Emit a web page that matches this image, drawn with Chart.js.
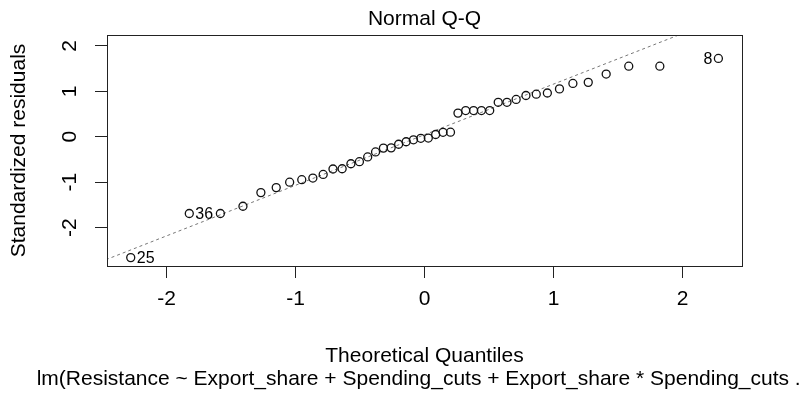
<!DOCTYPE html>
<html lang="en">
<head>
  <meta charset="UTF-8" />
  <title>Normal Q-Q</title>
  <script src="https://cdn.jsdelivr.net/npm/chart.js"></script>
  <style>
    body {
      margin: 0;
      background: #fff;
    }
    #wrap {
      width: 799px;
      height: 396px;
      position: relative;
    }
  </style>
</head>
<body>
  <div id="wrap"><canvas id="qq"></canvas></div>

  <script>
    // theoretical quantiles (x) and standardized residuals (y)
    const theoQ = [-2.278, -1.824, -1.583, -1.408, -1.269, -1.150, -1.046, -0.952, -0.866, -0.786,
      -0.710, -0.639, -0.571, -0.505, -0.441, -0.380, -0.319, -0.259, -0.201, -0.143, -0.086, -0.029,
      0.029, 0.086, 0.143, 0.201, 0.259, 0.319, 0.380, 0.441, 0.505, 0.571, 0.639, 0.710, 0.786,
      0.866, 0.952, 1.046, 1.150, 1.269, 1.408, 1.583, 1.824, 2.278];
    const stdResid = [-2.66, -1.69, -1.69, -1.53, -1.23, -1.12, -1.00, -0.945, -0.91, -0.83,
      -0.71, -0.705, -0.595, -0.55, -0.445, -0.335, -0.25, -0.245, -0.165, -0.11, -0.067, -0.035,
      -0.029, 0.049, 0.098, 0.10, 0.52, 0.576, 0.576, 0.576, 0.576, 0.758, 0.758, 0.82, 0.907,
      0.936, 0.962, 1.053, 1.173, 1.197, 1.379, 1.552, 1.552, 1.723];

    // reference line end points
    const qqLineX = [-2.6, 2.6];
    const qqLineY = [-2.85, 2.94];

    // labelled observations: index into the arrays above, and the id shown
    const idIndex = [0, 1, 43];
    const idText = ['25', '36', '8'];

    const xTickVals = [-2, -1, 0, 1, 2];
    const yTickVals = [-2, -1, 0, 1, 2];

    const titleText = 'Normal Q-Q';
    const xTitle = 'Theoretical Quantiles';
    const yTitle = 'Standardized residuals';
    const subCaption = 'lm(Resistance ~ Export_share + Spending_cuts + Export_share * Spending_cuts ...';

    const FONT = '"Liberation Sans", Arial, sans-serif';

    const extras = {
      id: 'extras',
      afterDraw(chart) {
        const ctx = chart.ctx;
        const a = chart.chartArea;
        const xs = chart.scales.x, ys = chart.scales.y;
        ctx.save();

        // box
        ctx.strokeStyle = '#222';
        ctx.lineWidth = 1;
        ctx.strokeRect(a.left + 0.5, a.top + 0.5, a.right - a.left, a.bottom - a.top);

        ctx.fillStyle = '#000';
        ctx.textAlign = 'center';
        ctx.textBaseline = 'middle';

        // y tick labels, parallel to the axis
        ctx.font = '21px ' + FONT;
        yTickVals.forEach(v => {
          ctx.save();
          ctx.translate(70, ys.getPixelForValue(v));
          ctx.rotate(-Math.PI / 2);
          ctx.fillText(String(v), 0, 0);
          ctx.restore();
        });

        // titles
        const cx = (a.left + a.right) / 2;
        ctx.fillText(titleText, cx, 19);
        ctx.fillText(xTitle, cx, 356);
        ctx.fillText(subCaption, cx, 379);

        ctx.save();
        ctx.translate(19, (a.top + a.bottom) / 2);
        ctx.rotate(-Math.PI / 2);
        ctx.fillText(yTitle, 0, 0);
        ctx.restore();

        // point ids
        ctx.font = '16px ' + FONT;
        idIndex.forEach((i, k) => {
          const px = xs.getPixelForValue(theoQ[i]);
          const py = ys.getPixelForValue(stdResid[i]);
          if (theoQ[i] < 0) {
            ctx.textAlign = 'left';
            ctx.fillText(idText[k], px + 6, py + 1);
          } else {
            ctx.textAlign = 'right';
            ctx.fillText(idText[k], px - 6, py + 1);
          }
        });

        ctx.restore();
      }
    };

    new Chart(document.getElementById('qq'), {
      type: 'scatter',
      data: {
        datasets: [{
          label: 'residuals',
          data: theoQ.map((x, i) => ({ x: x, y: stdResid[i] })),
          pointStyle: 'circle',
          pointRadius: 4,
          pointHoverRadius: 4,
          pointBorderWidth: 1.3,
          pointBorderColor: '#111',
          pointBackgroundColor: 'rgba(0,0,0,0)'
        }, {
          type: 'line',
          label: 'qqline',
          data: qqLineX.map((x, i) => ({ x: x, y: qqLineY[i] })),
          borderColor: '#777',
          borderWidth: 1,
          borderDash: [3, 3],
          pointRadius: 0,
          fill: false
        }]
      },
      options: {
        responsive: true,
        maintainAspectRatio: false,
        animation: false,
        layout: { padding: { top: 35, right: 57, left: 0, bottom: 0 } },
        plugins: {
          legend: { display: false },
          tooltip: { enabled: false }
        },
        scales: {
          x: {
            type: 'linear',
            min: -2.462,
            max: 2.461,
            afterBuildTicks: s => { s.ticks = xTickVals.map(v => ({ value: v })); },
            afterFit: s => { s.height = 130; },
            grid: { drawOnChartArea: false, tickLength: 12, color: '#222' },
            border: { display: false },
            ticks: {
              color: '#000',
              font: { size: 21, family: FONT },
              padding: 9,
              maxRotation: 0,
              callback: v => String(v)
            }
          },
          y: {
            type: 'linear',
            min: -2.845,
            max: 2.239,
            afterBuildTicks: s => { s.ticks = yTickVals.map(v => ({ value: v })); },
            afterFit: s => { s.width = 107; },
            grid: { drawOnChartArea: false, tickLength: 12, color: '#222' },
            border: { display: false },
            ticks: { display: false }
          }
        }
      },
      plugins: [extras]
    });
  </script>
</body>
</html>
